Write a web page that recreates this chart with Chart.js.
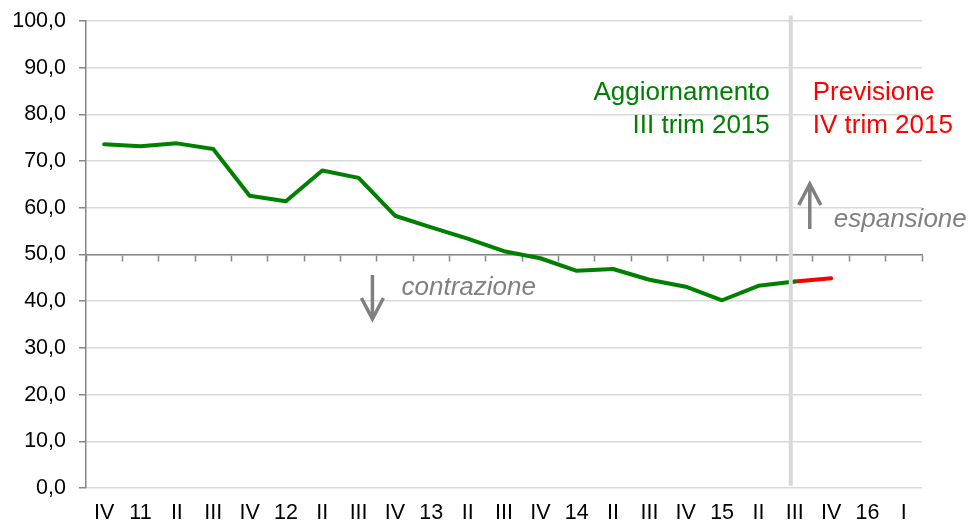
<!DOCTYPE html>
<html>
<head>
<meta charset="utf-8">
<script src="https://cdn.jsdelivr.net/npm/chart.js@4/dist/chart.umd.min.js"></script>
<style>
  html, body { margin: 0; padding: 0; background: #fff; }
  #wrap { width: 971px; height: 523px; }
</style>
</head>
<body>
<div id="wrap"><canvas id="chart_one" width="971" height="523"></canvas></div>
<script>
// trimestri: IV 2010 .. I 2016
var quarters = ['IV', '11', 'II', 'III', 'IV', '12', 'II', 'III', 'IV', '13', 'II', 'III',
                'IV', '14', 'II', 'III', 'IV', '15', 'II', 'III', 'IV', '16', 'I'];

// aggiornamento III trim 2015 (verde)
var aggiornamento = [73.6, 73.2, 73.8, 72.6, 62.6, 61.4, 68.0, 66.4, 58.3, 55.8,
                     53.4, 50.7, 49.2, 46.5, 46.9, 44.6, 43.1, 40.2, 43.3, 44.2];

// previsione IV trim 2015 (rosso)
var previsione = [null, null, null, null, null, null, null, null, null, null,
                  null, null, null, null, null, null, null, null, null, 44.2, 44.9];

var font_name = '"Liberation Sans", Arial, sans-serif';
var axis_grey = '#868686';

function fmt_tick(v) {
    return v.toFixed(1).replace('.', ',');
}

// scritte, frecce e linea verticale sopra il grafico
var overlay = {
    id: 'overlay',
    afterDatasetsDraw: function (chart) {
        var ctx = chart.ctx;
        var x = chart.scales.x;
        var y = chart.scales.y;
        var vx = x.getPixelForValue(19) - 4;

        ctx.save();
        // separatore verticale
        ctx.strokeStyle = '#d9d9d9';
        ctx.lineWidth = 4;
        ctx.beginPath();
        ctx.moveTo(vx, y.getPixelForValue(101.2));
        ctx.lineTo(vx, y.getPixelForValue(0.5));
        ctx.stroke();

        ctx.font = '26px ' + font_name;
        ctx.textBaseline = 'alphabetic';
        ctx.fillStyle = '#008000';
        ctx.textAlign = 'right';
        ctx.fillText('Aggiornamento', vx - 21, 100);
        ctx.fillText('III trim 2015', vx - 21, 132.7);

        ctx.fillStyle = '#ff0000';
        ctx.textAlign = 'left';
        ctx.fillText('Previsione', vx + 22, 100);
        ctx.fillText('IV trim 2015', vx + 22, 132.7);

        ctx.font = 'italic 26px ' + font_name;
        ctx.fillStyle = '#808080';
        ctx.fillText('espansione', vx + 43, 226.7);
        ctx.fillText('contrazione', x.getPixelForValue(8.18), 295);

        // frecce
        ctx.strokeStyle = '#808080';
        ctx.lineWidth = 3.5;
        ctx.lineCap = 'butt';
        var ax = vx + 19;
        ctx.beginPath();
        ctx.moveTo(ax, 229);
        ctx.lineTo(ax, 185);
        ctx.moveTo(ax - 11, 205);
        ctx.lineTo(ax, 184);
        ctx.lineTo(ax + 11, 205);
        ctx.stroke();

        var bx = x.getPixelForValue(7.38);
        ctx.beginPath();
        ctx.moveTo(bx, 275);
        ctx.lineTo(bx, 317);
        ctx.moveTo(bx - 11, 298);
        ctx.lineTo(bx, 319);
        ctx.lineTo(bx + 11, 298);
        ctx.stroke();
        ctx.restore();
    }
};

var ctx = document.getElementById('chart_one').getContext('2d');
var chart = new Chart(ctx, {
    type: 'line',
    data: {
        labels: quarters,
        datasets: [{
            label: 'Aggiornamento III trim 2015',
            data: aggiornamento,
            borderColor: '#008000',
            borderWidth: 4,
            borderCapStyle: 'round',
            borderJoinStyle: 'round',
            tension: 0,
            fill: false,
            pointRadius: 0
        }, {
            label: 'Previsione IV trim 2015',
            data: previsione,
            borderColor: '#ff0000',
            borderWidth: 4,
            borderCapStyle: 'round',
            tension: 0,
            fill: false,
            pointRadius: 0
        }]
    },
    options: {
        responsive: false,
        animation: false,
        events: [],
        layout: { padding: { top: 21, right: 49, left: 0, bottom: 0 } },
        plugins: {
            legend: { display: false },
            tooltip: { enabled: false }
        },
        scales: {
            x: {
                type: 'category',
                offset: true,
                grid: { display: false, drawTicks: false },
                border: { display: false },
                ticks: {
                    color: '#000',
                    font: { family: font_name, size: 21.5 },
                    padding: 12,
                    maxRotation: 0,
                    autoSkip: false
                },
                afterFit: function (scale) {
                    scale.height = 35;
                    scale.paddingLeft = 0;
                    scale.paddingRight = 0;
                }
            },
            x2: {
                type: 'category',
                labels: quarters,
                position: { y: 50 },
                offset: true,
                grid: {
                    offset: true,
                    drawOnChartArea: false,
                    drawTicks: true,
                    tickLength: 6,
                    tickColor: axis_grey,
                    tickWidth: 1.5,
                    color: axis_grey
                },
                border: { color: axis_grey, width: 1.5 },
                ticks: { display: false }
            },
            y: {
                min: 0,
                max: 100,
                z: -1,
                grid: {
                    color: '#d9d9d9',
                    lineWidth: 1.5,
                    tickLength: 7,
                    tickColor: axis_grey,
                    tickWidth: 1.5
                },
                border: { color: axis_grey, width: 1.5 },
                ticks: {
                    stepSize: 10,
                    color: '#000',
                    padding: 13,
                    font: { family: font_name, size: 21.5 },
                    callback: function (v) { return fmt_tick(v); }
                },
                afterFit: function (scale) {
                    scale.width = 86;
                    scale.paddingTop = 0;
                    scale.paddingBottom = 0;
                }
            }
        }
    },
    plugins: [overlay]
});
</script>
</body>
</html>
